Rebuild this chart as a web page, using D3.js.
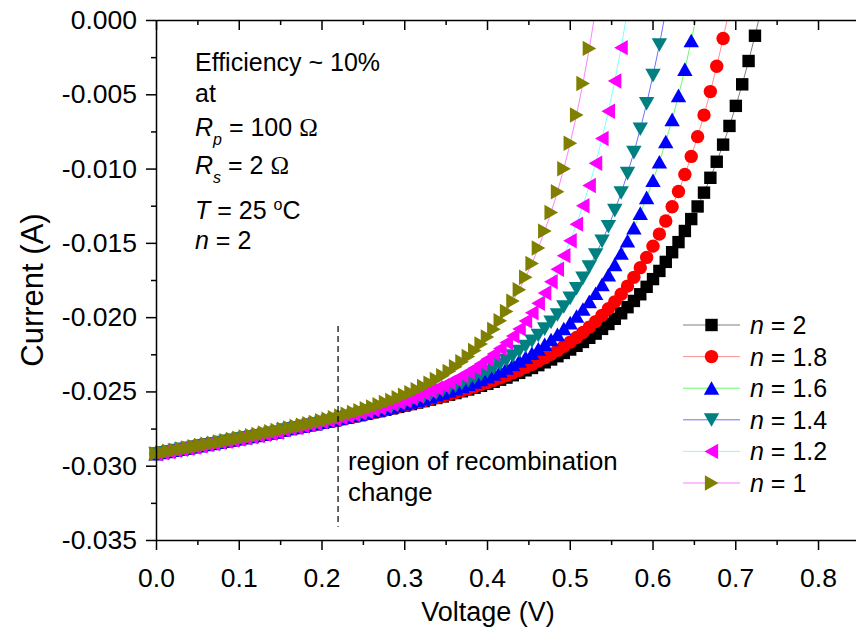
<!DOCTYPE html>
<html><head><meta charset="utf-8">
<script src="https://cdn.jsdelivr.net/npm/d3@7"></script>
<style>
body{margin:0;background:#fff;}
svg{display:block;font-family:"Liberation Sans",Arial,Helvetica,sans-serif;}
</style>
</head><body>
<svg id="c" width="856" height="636"></svg>
<script>
// ---- data (voltage in V, current in mA) ----
const voltage = [0,0.0077,0.0154,0.0231,0.0308,0.0385,0.0462,0.0539,0.0616,0.0693,
0.077,0.0847,0.0924,0.1001,0.1078,0.1155,0.1232,0.1309,0.1386,0.1463,
0.154,0.1617,0.1694,0.1771,0.1848,0.1925,0.2002,0.2079,0.2156,0.2233,
0.231,0.2387,0.2464,0.2541,0.2618,0.2695,0.2772,0.2849,0.2926,0.3003,
0.308,0.3157,0.3234,0.3311,0.3388,0.3465,0.3542,0.3619,0.3696,0.3773,
0.385,0.3927,0.4004,0.4081,0.4158,0.4235,0.4312,0.4389,0.4466,0.4543,
0.462,0.4697,0.4774,0.4851,0.4928,0.5005,0.5082,0.5159,0.5236,0.5313,
0.539,0.5467,0.5544,0.5621,0.5698,0.5775,0.5852,0.5929,0.6006,0.6083,
0.616,0.6237,0.6314,0.6391,0.6468,0.6545,0.6622,0.6699,0.6776,0.6853,
0.693,0.7007,0.7084,0.7161,0.7238,0.7315];

const currentN2 = [-29.20,-29.12,-29.05,-28.97,-28.89,-28.82,-28.74,-28.66,-28.58,-28.51,
-28.43,-28.35,-28.28,-28.20,-28.12,-28.05,-27.97,-27.89,-27.81,-27.74,
-27.61,-27.52,-27.45,-27.36,-27.27,-27.20,-27.11,-27.02,-26.94,-26.86,
-26.77,-26.68,-26.60,-26.51,-26.41,-26.33,-26.23,-26.14,-26.04,-25.95,
-25.85,-25.75,-25.65,-25.55,-25.44,-25.34,-25.22,-25.11,-24.99,-24.87,
-24.75,-24.62,-24.49,-24.35,-24.21,-24.07,-23.91,-23.75,-23.58,-23.42,
-23.23,-23.04,-22.85,-22.63,-22.41,-22.18,-21.93,-21.67,-21.39,-21.11,
-20.79,-20.46,-20.11,-19.74,-19.33,-18.91,-18.46,-17.96,-17.44,-16.89,
-16.28,-15.63,-14.95,-14.20,-13.40,-12.55,-11.62,-10.62,-9.54,-8.39,
-7.13,-5.78,-4.33,-2.76,-1.06,0.77];

const currentN18 = [-29.20,-29.12,-29.05,-28.97,-28.89,-28.82,-28.74,-28.66,-28.58,-28.51,
-28.43,-28.35,-28.28,-28.20,-28.12,-28.05,-27.97,-27.89,-27.81,-27.74,
-27.62,-27.53,-27.46,-27.37,-27.29,-27.21,-27.12,-27.04,-26.95,-26.87,
-26.78,-26.69,-26.60,-26.51,-26.42,-26.33,-26.24,-26.14,-26.04,-25.95,
-25.84,-25.74,-25.64,-25.53,-25.42,-25.31,-25.19,-25.07,-24.94,-24.82,
-24.68,-24.54,-24.40,-24.25,-24.09,-23.93,-23.75,-23.57,-23.37,-23.18,
-22.96,-22.73,-22.50,-22.24,-21.96,-21.68,-21.37,-21.03,-20.67,-20.30,
-19.88,-19.44,-18.97,-18.46,-17.91,-17.32,-16.67,-15.98,-15.22,-14.41,
-13.53,-12.57,-11.54,-10.40,-9.18,-7.85,-6.40,-4.82,-3.11,-1.25,
0.78];

const currentN16 = [-29.20,-29.12,-29.05,-28.97,-28.89,-28.82,-28.74,-28.66,-28.58,-28.51,
-28.43,-28.35,-28.28,-28.20,-28.12,-28.05,-27.97,-27.89,-27.81,-27.74,
-27.60,-27.51,-27.43,-27.35,-27.26,-27.18,-27.09,-27.00,-26.91,-26.82,
-26.73,-26.63,-26.55,-26.45,-26.35,-26.26,-26.15,-26.05,-25.94,-25.84,
-25.72,-25.61,-25.50,-25.37,-25.24,-25.12,-24.98,-24.83,-24.68,-24.53,
-24.37,-24.20,-24.03,-23.83,-23.63,-23.43,-23.20,-22.96,-22.71,-22.44,
-22.15,-21.84,-21.52,-21.17,-20.78,-20.38,-19.94,-19.47,-18.95,-18.41,
-17.81,-17.16,-16.46,-15.70,-14.87,-13.99,-13.01,-11.95,-10.80,-9.55,
-8.19,-6.70,-5.09,-3.32,-1.39,0.70];

const currentN14 = [-29.20,-29.12,-29.05,-28.97,-28.89,-28.82,-28.74,-28.66,-28.58,-28.51,
-28.43,-28.35,-28.28,-28.20,-28.12,-28.05,-27.97,-27.89,-27.81,-27.74,
-27.59,-27.51,-27.43,-27.34,-27.25,-27.17,-27.08,-26.99,-26.89,-26.81,
-26.71,-26.61,-26.52,-26.42,-26.31,-26.22,-26.11,-25.99,-25.88,-25.77,
-25.64,-25.51,-25.39,-25.25,-25.10,-24.96,-24.80,-24.63,-24.46,-24.28,
-24.08,-23.87,-23.66,-23.42,-23.17,-22.90,-22.61,-22.30,-21.96,-21.61,
-21.22,-20.79,-20.34,-19.84,-19.30,-18.72,-18.08,-17.38,-16.62,-15.80,
-14.89,-13.90,-12.82,-11.63,-10.33,-8.91,-7.34,-5.62,-3.73,-1.67,
0.61];

const currentN12 = [-29.20,-29.12,-29.05,-28.97,-28.89,-28.82,-28.74,-28.66,-28.58,-28.51,
-28.43,-28.35,-28.28,-28.20,-28.12,-28.05,-27.97,-27.89,-27.81,-27.74,
-27.58,-27.49,-27.41,-27.32,-27.23,-27.15,-27.05,-26.95,-26.85,-26.76,
-26.66,-26.55,-26.45,-26.34,-26.22,-26.11,-25.99,-25.86,-25.73,-25.60,
-25.45,-25.30,-25.14,-24.97,-24.79,-24.61,-24.40,-24.18,-23.94,-23.70,
-23.43,-23.13,-22.83,-22.48,-22.11,-21.71,-21.27,-20.79,-20.26,-19.70,
-19.06,-18.37,-17.62,-16.78,-15.86,-14.86,-13.74,-12.50,-11.14,-9.64,
-7.98,-6.14,-4.11,-1.86,0.64];

const currentN1 = [-29.19,-29.11,-29.03,-28.95,-28.87,-28.80,-28.72,-28.64,-28.56,-28.48,
-28.40,-28.32,-28.23,-28.15,-28.06,-27.98,-27.89,-27.80,-27.71,-27.63,
-27.54,-27.45,-27.36,-27.27,-27.17,-27.08,-26.97,-26.87,-26.76,-26.65,
-26.54,-26.42,-26.30,-26.17,-26.04,-25.90,-25.75,-25.60,-25.43,-25.26,
-25.08,-24.88,-24.67,-24.44,-24.20,-23.94,-23.65,-23.34,-23.00,-22.65,
-22.25,-21.81,-21.34,-20.82,-20.24,-19.62,-18.92,-18.16,-17.31,-16.39,
-15.35,-14.21,-12.96,-11.56,-10.01,-8.30,-6.39,-4.27,-1.91,0.70];

const seriesCurrents = [currentN2, currentN18, currentN16, currentN14, currentN12, currentN1];
const idealityLabels = ["2", "1.8", "1.6", "1.4", "1.2", "1"];
const markerColors = ["#000000", "#ff0000", "#0000ff", "#008080", "#ff00ff", "#808000"];
const lineColors = ["#7f7f7f", "#ff9090", "#66ff66", "#7070ff", "#80ffff", "#ff80ff"];
const markerShapes = ["square", "circle", "up", "down", "left", "right"];

const xTicks = [0, 0.1, 0.2, 0.3, 0.4, 0.5, 0.6, 0.7, 0.8];
const xMinorTicks = [0.05, 0.15, 0.25, 0.35, 0.45, 0.55, 0.65, 0.75, 0.85];
const yTicks = [0, -5, -10, -15, -20, -25, -30, -35];          // mA
const yMinorTicks = [-2.5, -7.5, -12.5, -17.5, -22.5, -27.5, -32.5];

const annotationLines = ["Efficiency ~ 10%", "at"];
const dividerVoltage = 0.22;
const dividerCurrentRange = [-20.6, -34.1];
const regionText = ["region of recombination", "change"];

// ---- drawing ----
const svg = d3.select("#c");
const x = d3.scaleLinear().domain([0, 0.85]).range([156, 859.4]);
const y = d3.scaleLinear().domain([-35, 0]).range([540, 20]);

const defs = svg.append("defs");
defs.append("clipPath").attr("id", "clipTop")
  .append("rect").attr("x", 0).attr("y", y(0)).attr("width", 856).attr("height", 636 - y(0));

function markerPath(shape) {
  switch (shape) {
    case "square": return "M-6.2,-6.2H6.2V6.2H-6.2Z";
    case "circle": return d3.symbol(d3.symbolCircle, Math.PI * 6.7 * 6.7)();
    case "up": return "M0,-7L7.7,6.6L-7.7,6.6Z";
    case "down": return "M0,7L7.7,-6.6L-7.7,-6.6Z";
    case "left": return "M-7,0L6.6,-7.7L6.6,7.7Z";
    case "right": return "M7,0L-6.6,-7.7L-6.6,7.7Z";
  }
}

const plot = svg.append("g").attr("clip-path", "url(#clipTop)");
const line = d3.line().x(d => x(d[0])).y(d => y(d[1]));

seriesCurrents.forEach((cur, s) => {
  const pts = cur.map((c, i) => [voltage[i], c]);
  const g = plot.append("g");
  g.append("path").datum(pts).attr("d", line)
    .attr("fill", "none").attr("stroke", lineColors[s]).attr("stroke-width", 1);
  g.selectAll("path.m").data(pts).join("path").attr("class", "m")
    .attr("d", markerPath(markerShapes[s]))
    .attr("transform", d => `translate(${x(d[0])},${y(d[1])})`)
    .attr("fill", markerColors[s]);
});

// axes
function styleAxis(g, fs) {
  g.selectAll("path.domain").attr("stroke", "#000").attr("stroke-width", 1.5);
  g.selectAll(".tick line").attr("stroke", "#000").attr("stroke-width", 1.5);
  g.selectAll(".tick text").attr("fill", "#000").attr("font-size", fs || 26)
    .attr("font-family", '"Liberation Sans", Arial, sans-serif');
}
const gb = svg.append("g").attr("transform", `translate(0,${y(-35)})`)
  .call(d3.axisBottom(x).tickValues(xTicks).tickSize(10).tickSizeOuter(0).tickPadding(18).tickFormat(d => d.toFixed(1)));
styleAxis(gb, 26.5);
const gbm = svg.append("g").attr("transform", `translate(0,${y(-35)})`)
  .call(d3.axisBottom(x).tickValues(xMinorTicks).tickSize(5).tickSizeOuter(0).tickFormat(""));
gbm.select(".domain").remove(); styleAxis(gbm);

const gt = svg.append("g").attr("transform", `translate(0,${y(0)})`)
  .call(d3.axisBottom(x).tickValues(xTicks).tickSize(10).tickSizeOuter(0).tickFormat(""));
styleAxis(gt);
const gtm = svg.append("g").attr("transform", `translate(0,${y(0)})`)
  .call(d3.axisBottom(x).tickValues(xMinorTicks).tickSize(5).tickSizeOuter(0).tickFormat(""));
gtm.select(".domain").remove(); styleAxis(gtm);

const gl = svg.append("g").attr("transform", `translate(${x(0)},0)`)
  .call(d3.axisLeft(y).tickValues(yTicks).tickSize(10).tickSizeOuter(0).tickPadding(9).tickFormat(d => (d / 1000).toFixed(3)));
styleAxis(gl, 26.5);
const glm = svg.append("g").attr("transform", `translate(${x(0)},0)`)
  .call(d3.axisLeft(y).tickValues(yMinorTicks).tickSize(5).tickSizeOuter(0).tickFormat(""));
glm.select(".domain").remove(); styleAxis(glm);

// axis titles
svg.append("text").attr("x", 488).attr("y", 621).attr("text-anchor", "middle")
  .attr("font-size", 27).text("Voltage (V)");
svg.append("text").attr("transform", "translate(43,290) rotate(-90)").attr("text-anchor", "middle")
  .attr("font-size", 31).text("Current (A)");

// annotation block
const ann = svg.append("g").attr("font-size", 25).attr("fill", "#000");
ann.append("text").attr("x", 195).attr("y", 71).text(annotationLines[0]);
ann.append("text").attr("x", 195).attr("y", 102).text(annotationLines[1]);
const rp = ann.append("text").attr("x", 195).attr("y", 136);
rp.append("tspan").attr("font-style", "italic").text("R");
rp.append("tspan").attr("font-style", "italic").attr("font-size", 16).attr("dy", 9).text("p");
rp.append("tspan").attr("dy", -9).text(" = 100 ");
rp.append("tspan").attr("font-family", '"Liberation Serif", serif').text("\u03A9");
const rs = ann.append("text").attr("x", 195).attr("y", 174);
rs.append("tspan").attr("font-style", "italic").text("R");
rs.append("tspan").attr("font-style", "italic").attr("font-size", 16).attr("dy", 9).text("s");
rs.append("tspan").attr("dy", -9).text(" = 2 ");
rs.append("tspan").attr("font-family", '"Liberation Serif", serif').text("\u03A9");
const tt = ann.append("text").attr("x", 195).attr("y", 219);
tt.append("tspan").attr("font-style", "italic").text("T");
tt.append("tspan").text(" = 25 ");
tt.append("tspan").attr("font-size", 16).attr("dy", -9).text("o");
tt.append("tspan").attr("dy", 9).text("C");
const nn = ann.append("text").attr("x", 195).attr("y", 249);
nn.append("tspan").attr("font-style", "italic").text("n");
nn.append("tspan").text(" = 2");

// divider + region text
svg.append("line").attr("x1", x(dividerVoltage)).attr("x2", x(dividerVoltage))
  .attr("y1", y(dividerCurrentRange[0])).attr("y2", y(dividerCurrentRange[1]))
  .attr("stroke", "#000").attr("stroke-width", 1.2).attr("stroke-dasharray", "6,4");
svg.append("text").attr("x", 348).attr("y", 470).attr("font-size", 25.8).text(regionText[0]);
svg.append("text").attr("x", 348).attr("y", 501).attr("font-size", 25.8).text(regionText[1]);

// legend
const lg = svg.append("g");
idealityLabels.forEach((lab, s) => {
  const cy = 325 + s * 31.6;
  lg.append("line").attr("x1", 683).attr("x2", 740).attr("y1", cy).attr("y2", cy)
    .attr("stroke", lineColors[s]).attr("stroke-width", 1);
  lg.append("path").attr("d", markerPath(markerShapes[s]))
    .attr("transform", `translate(711.5,${cy})`).attr("fill", markerColors[s]);
  const t = lg.append("text").attr("x", 750).attr("y", cy + 9).attr("font-size", 25);
  t.append("tspan").attr("font-style", "italic").text("n");
  t.append("tspan").text(" = " + lab);
});
</script>
</body></html>
